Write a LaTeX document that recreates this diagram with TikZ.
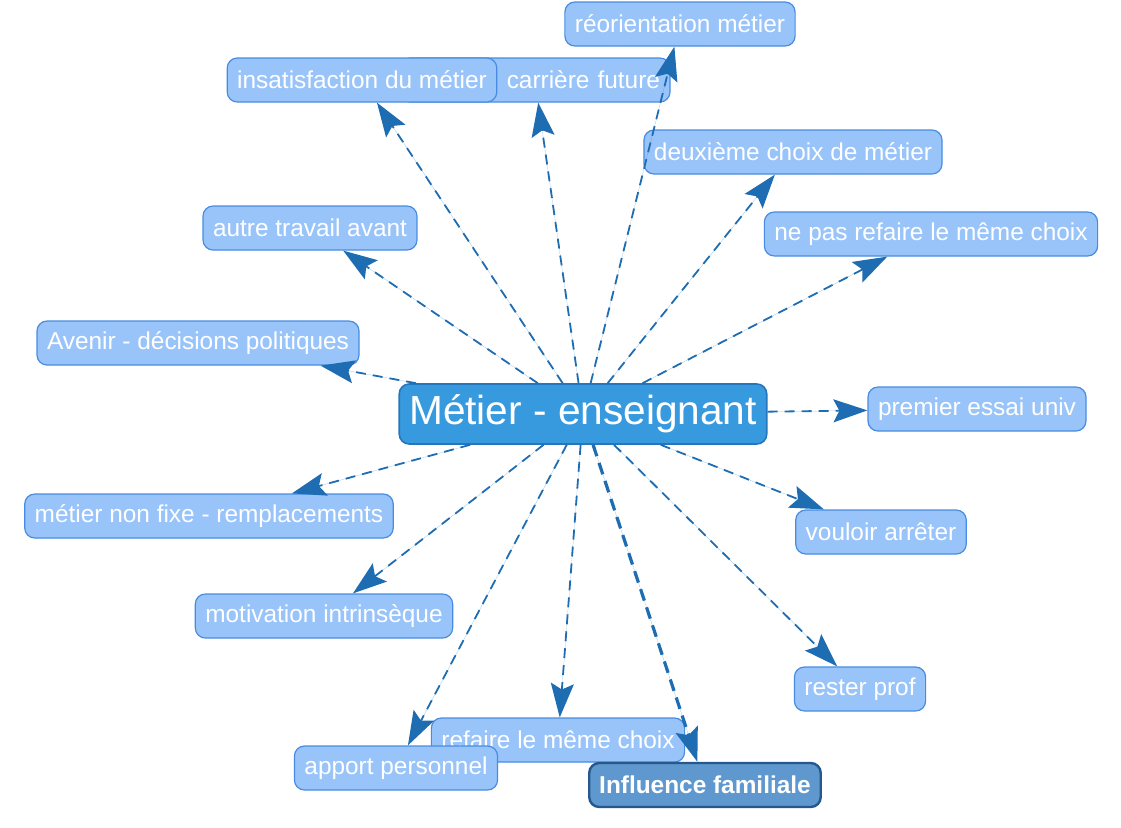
\documentclass[tikz,border=0pt]{standalone}
\usepackage{fontspec}
\setmainfont{Liberation Sans}
\usetikzlibrary{arrows.meta}

\definecolor{ideafill}{RGB}{153,196,250}
\definecolor{ideadraw}{RGB}{72,140,226}
\definecolor{mainfill}{RGB}{56,154,222}
\definecolor{maindraw}{RGB}{38,118,190}
\definecolor{famfill}{RGB}{94,152,206}
\definecolor{famdraw}{RGB}{38,88,140}
\definecolor{linkcol}{RGB}{30,108,178}

\begin{document}
\begin{tikzpicture}[x=0.5pt,y=-0.5pt,
	>={Stealth[length=17pt,width=11.5pt,inset=3pt]},
	idea/.style={draw=ideadraw,fill=ideafill,text=white,rounded corners=5pt,line width=0.6pt,minimum height=22pt,inner xsep=5pt,font=\fontsize{12.2}{14}\selectfont},
	link/.style={->,draw=linkcol,fill=linkcol,line width=0.9pt,dash pattern=on 5pt off 3.5pt}]

	\useasboundingbox (0,0) rectangle (1121,827);

	\node[idea] (Reorient) at (680,24) {réorientation métier};
	\node[idea,text width=125pt,align=right] (Carriere) at (535,80) {carrière future};
	\node[idea] (Insatis) at (362,80) {insatisfaction du métier};
	\node[idea] (Deuxieme) at (793,152) {deuxième choix de métier};
	\node[idea] (Autre) at (310,228) {autre travail avant};
	\node[idea] (NePas) at (931,234) {ne pas refaire le même choix};
	\node[idea] (Avenir) at (198,343) {Avenir - décisions politiques};
	\node[draw=maindraw,fill=mainfill,text=white,rounded corners=5pt,line width=0.8pt,minimum height=30pt,inner xsep=5pt,font=\fontsize{20.3}{24}\selectfont] (Metier) at (583,414) {Métier - enseignant};
	\node[idea] (Premier) at (977,409) {premier essai univ};
	\node[idea] (NonFixe) at (209,516) {métier non fixe - remplacements};
	\node[idea] (Vouloir) at (881,532) {vouloir arrêter};
	\node[idea] (Motiv) at (324,616) {motivation intrinsèque};
	\node[idea] (Rester) at (860,689) {rester prof};
	\node[idea] (Refaire) at (558,740) {refaire le même choix};
	\node[idea] (Apport) at (396,768) {apport personnel};
	\node[idea,draw=famdraw,fill=famfill,line width=1.2pt,font=\fontsize{12.2}{14}\selectfont\bfseries] (Famille) at (705,785) {Influence familiale};

	% liens depuis le noeud central
	\draw[link] (Metier) -- (Reorient);
	\draw[link] (Metier) -- (Carriere);
	\draw[link] (Metier) -- (Insatis);
	\draw[link] (Metier) -- (Deuxieme);
	\draw[link] (Metier) -- (Autre);
	\draw[link] (Metier) -- (NePas);
	\draw[link] (Metier) -- (Avenir);
	\draw[link] (Metier) -- (Premier);
	\draw[link] (Metier) -- (NonFixe);
	\draw[link] (Metier) -- (Vouloir);
	\draw[link] (Metier) -- (Motiv);
	\draw[link] (Metier) -- (Rester);
	\draw[link] (Metier) -- (Refaire);
	\draw[link] (Metier) -- (Apport);
	\draw[link,line width=1.6pt,dash pattern=on 6pt off 3.5pt] (Metier) -- (Famille); % lien principal

\end{tikzpicture}
\end{document}
